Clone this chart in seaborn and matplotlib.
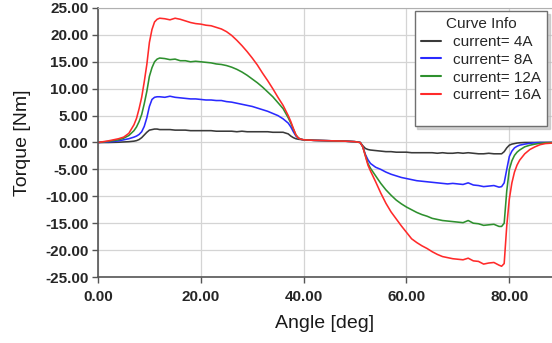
import numpy as np
import pandas as pd
import matplotlib
matplotlib.use("Agg")
import matplotlib.pyplot as plt
from matplotlib.lines import Line2D
import seaborn as sns

# Angle samples [deg], shared by all four curves
angle = [0, 2, 4, 5, 6, 7, 7.5, 8, 8.5, 9, 9.5, 10, 10.5, 11, 11.5, 12, 13,
         14, 15, 16, 17, 18, 19, 20, 21, 22, 23, 24, 25, 26, 27, 28, 29, 30, 31, 32, 33, 34, 35, 36,
         37, 37.5, 38, 38.5, 39, 39.5, 40,
         42, 44, 46, 48, 50,
         51, 51.5, 52, 52.5, 53, 54, 55, 56, 57, 58, 59, 60, 61, 62, 63, 64, 65, 66, 67, 68, 69, 70,
         71, 72, 73, 74, 75, 76, 77, 78, 78.5, 79, 79.5, 80, 80.5, 81, 81.5, 82, 83, 84, 85, 86, 87, 88.5]

torque_4a = [0, 0.0, 0.05, 0.1, 0.15, 0.25, 0.35, 0.55, 0.9, 1.4, 1.9, 2.3, 2.4, 2.5, 2.5, 2.4, 2.4,
             2.4, 2.3, 2.3, 2.3, 2.2, 2.2, 2.2, 2.2, 2.2, 2.1, 2.1, 2.1, 2.1, 2.0, 2.1, 2.0, 2.0, 2.0, 2.0, 2.0, 1.9, 1.9, 1.9,
             1.6, 1.2, 0.9, 0.7, 0.6, 0.55, 0.5,
             0.4, 0.35, 0.3, 0.25, 0.15,
             0.0, -0.6, -1.1, -1.3, -1.4, -1.5, -1.6, -1.7, -1.7, -1.8, -1.8, -1.8, -1.9, -1.9, -1.9, -1.9, -1.9, -2.0, -1.9, -2.0, -2.0, -1.9,
             -2.0, -1.9, -2.0, -2.1, -2.1, -2.0, -2.1, -2.1, -2.1, -1.7, -1.0, -0.5, -0.3, -0.2, -0.1, -0.05, 0, 0, 0, 0, 0, 0]

torque_8a = [0, 0.1, 0.3, 0.5, 0.7, 1.0, 1.2, 1.5, 2.0, 3.0, 4.6, 6.7, 8.0, 8.4, 8.5, 8.5, 8.4,
             8.6, 8.4, 8.3, 8.2, 8.1, 8.1, 8.0, 7.9, 7.9, 7.8, 7.8, 7.6, 7.5, 7.3, 7.1, 6.9, 6.7, 6.4, 6.1, 5.8, 5.4, 5.0, 4.4,
             3.6, 2.9, 2.0, 1.2, 0.8, 0.6, 0.5,
             0.4, 0.35, 0.3, 0.25, 0.15,
             0.0, -0.8, -2.2, -3.2, -3.9, -4.6, -5.0, -5.5, -5.9, -6.2, -6.5, -6.7, -6.9, -7.1, -7.2, -7.3, -7.4, -7.5, -7.6, -7.7, -7.6, -7.7,
             -7.8, -7.5, -7.9, -8.0, -8.2, -8.1, -8.0, -8.3, -8.2, -7.5, -5.0, -2.6, -1.6, -1.0, -0.7, -0.5, -0.3, -0.15, -0.05, 0, 0, 0]

torque_12a = [0, 0.2, 0.5, 0.8, 1.3, 2.2, 2.9, 3.9, 5.2, 7.2, 9.5, 12.3, 13.9, 15.0, 15.5, 15.7, 15.6,
              15.4, 15.5, 15.2, 15.2, 15.0, 15.1, 15.0, 14.9, 14.8, 14.6, 14.5, 14.3, 14.0, 13.6, 13.1, 12.5, 11.8, 11.1, 10.3, 9.4, 8.5, 7.4, 6.3,
              4.6, 3.6, 2.5, 1.4, 0.8, 0.6, 0.5,
              0.4, 0.35, 0.3, 0.25, 0.15,
              0.0, -0.8, -2.4, -3.9, -4.8, -6.2, -7.6, -8.8, -9.8, -10.7, -11.4, -12.0, -12.5, -13.0, -13.4, -13.7, -14.1, -14.3, -14.5, -14.6, -14.7, -14.8,
              -14.9, -14.5, -15.0, -15.1, -15.4, -15.3, -15.2, -15.6, -15.6, -15.0, -9.0, -5.0, -3.4, -2.4, -1.8, -1.4, -0.8, -0.5, -0.3, -0.15, -0.05, 0]

torque_16a = [0, 0.3, 0.7, 1.0, 1.7, 3.3, 4.5, 6.3, 8.4, 11.3, 14.5, 18.6, 21.0, 22.4, 22.9, 23.1, 23.0,
              22.8, 23.1, 22.9, 22.6, 22.3, 22.1, 22.0, 21.8, 21.7, 21.4, 21.1, 20.6, 19.9, 19.0, 18.0, 16.9, 15.7, 14.4, 12.9, 11.5, 10.0, 8.4, 6.9,
              5.0, 3.9, 2.6, 1.4, 0.8, 0.6, 0.5,
              0.4, 0.35, 0.3, 0.25, 0.15,
              0.0, -0.8, -2.5, -4.2, -5.3, -7.3, -9.4, -11.3, -12.9, -14.2, -15.5, -16.7, -17.9, -18.6, -19.2, -19.7, -20.3, -20.8, -21.2, -21.4, -21.6, -21.7,
              -21.8, -21.5, -22.0, -22.1, -22.6, -22.4, -22.3, -22.8, -23.0, -22.5, -15.5, -10.5, -7.5, -5.5, -4.2, -3.3, -2.1, -1.3, -0.8, -0.4, -0.2, -0.1]

labels = ["current= 4A", "current= 8A", "current= 12A", "current= 16A"]
colors = ["#3a3a3a", "#2a2aff", "#2e902e", "#ff2a2a"]

sns.set_style("white")
plt.rcParams["font.family"] = ["Liberation Sans", "DejaVu Sans"]

frames = []
for lab, vals in zip(labels, [torque_4a, torque_8a, torque_12a, torque_16a]):
    frames.append(pd.DataFrame({"angle": angle, "torque": vals, "current": lab}))
df = pd.concat(frames, ignore_index=True)

fig = plt.figure(figsize=(5.52, 3.43), dpi=100)
ax = fig.add_axes([0.1775, 0.1924, 0.8225, 0.7843])

sns.lineplot(data=df, x="angle", y="torque", hue="current", hue_order=labels,
             palette=dict(zip(labels, colors)), sort=False, estimator=None,
             linewidth=1.15, legend=False, ax=ax)

ax.set_xlim(0, 88.3)
ax.set_ylim(-25, 25)
ax.set_xticks(np.arange(0, 81, 20))
ax.set_yticks(np.arange(-25, 26, 5))
ax.set_xticklabels([f"{v:.2f}" for v in np.arange(0, 81, 20)])
ax.set_yticklabels([f"{v:.2f}" for v in np.arange(-25, 26, 5)])
ax.grid(True, color="#d4d4d4", linewidth=0.9)
ax.set_axisbelow(True)

for lab in ax.get_xticklabels() + ax.get_yticklabels():
    lab.set_fontweight("bold")
ax.tick_params(axis="both", direction="out", length=4, width=1, color="#555555",
               labelsize=11, labelcolor="#262626", left=True, bottom=True)
ax.tick_params(axis="x", pad=5)
ax.tick_params(axis="y", pad=3)

ax.spines["right"].set_visible(False)
ax.spines["top"].set_color("#b0b0b0")
for s in ["left", "bottom"]:
    ax.spines[s].set_color("#555555")
    ax.spines[s].set_linewidth(1.2)

ax.set_xlabel("Angle [deg]", fontsize=14, color="#1a1a1a", labelpad=8)
ax.set_ylabel("Torque [Nm]", fontsize=14, color="#1a1a1a", labelpad=10)

handles = [Line2D([], [], color=c, linewidth=1.5) for c in colors]
handles.append(Line2D([], [], color="none"))
leg = ax.legend(handles, labels + [""], title="Curve Info", loc="upper right",
                bbox_to_anchor=(547 / 552, 1 - 11 / 343), bbox_transform=fig.transFigure,
                borderaxespad=0, fontsize=11, title_fontsize=11, frameon=True,
                fancybox=False, shadow={"color": "#b8b8b8", "alpha": 0.6},
                handlelength=1.3, handletextpad=0.8,
                labelspacing=0.25, borderpad=0.4)
leg.get_frame().set_edgecolor("#707070")
leg.get_frame().set_linewidth(1.0)
leg.get_frame().set_alpha(1)

fig.savefig("out.png", dpi=100)
